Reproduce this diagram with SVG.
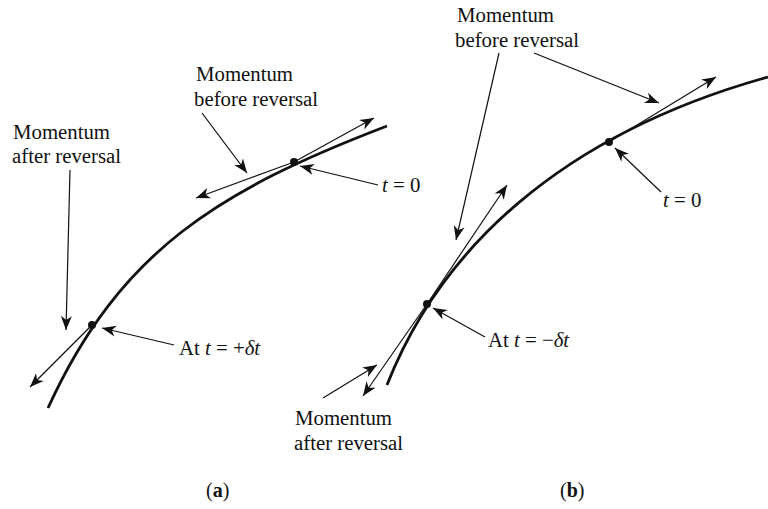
<svg xmlns="http://www.w3.org/2000/svg" width="768" height="509" viewBox="0 0 768 509">
<style>
.curve{fill:none;stroke:#111;stroke-width:2.8;stroke-linecap:butt}
.ln{fill:none;stroke:#111;stroke-width:1.2}
.ar{marker-end:url(#ah)}
.lbl{font-family:"Liberation Serif","Times New Roman",serif;font-size:20.8px;fill:#111}
.cap{font-family:"Liberation Serif","Times New Roman",serif;font-size:20px;fill:#111}
.dot{fill:#111}
</style>
<defs>
<marker id="ah" viewBox="-16 -7 18 14" markerWidth="18" markerHeight="14" refX="0" refY="0" orient="auto" markerUnits="userSpaceOnUse">
<path d="M0,0 L-14,-5.5 L-10,0 L-14,5.5 Z" fill="#111"/>
</marker>
</defs>
<rect width="768" height="509" fill="#fff"/>

<g id="panel-a">
<g id="curve-a"><path class="curve" d="M48 408 C120 250 220 190 387 126"/></g>
<g id="dot-a0"><circle class="dot" cx="294" cy="162" r="4"/></g>
<g id="dot-a1"><circle class="dot" cx="92" cy="325" r="4"/></g>
<g id="label-a-before"><text class="lbl" x="196" y="81">Momentum</text><text class="lbl" x="194" y="106">before reversal</text></g>
<g id="label-a-after"><text class="lbl" x="13" y="139">Momentum</text><text class="lbl" x="12" y="163">after reversal</text></g>
<g id="label-a-t0"><text class="lbl" x="382" y="192"><tspan font-style="italic">t</tspan> = 0</text></g>
<g id="label-a-dt"><text class="lbl" x="179" y="355">At <tspan font-style="italic">t</tspan> = +<tspan font-style="italic">δt</tspan></text></g>
<g id="caption-a"><text class="cap" x="206" y="497">(<tspan font-weight="bold">a</tspan>)</text></g>
</g>

<g id="panel-b">
<g id="curve-b"><path class="curve" d="M387 385 C440 250 560 135 768 77"/></g>
<g id="dot-b0"><circle class="dot" cx="609" cy="142" r="4"/></g>
<g id="dot-b1"><circle class="dot" cx="427" cy="304" r="4"/></g>
<g id="label-b-before"><text class="lbl" x="457" y="22">Momentum</text><text class="lbl" x="455" y="47">before reversal</text></g>
<g id="label-b-after"><text class="lbl" x="295" y="425">Momentum</text><text class="lbl" x="294" y="450">after reversal</text></g>
<g id="label-b-t0"><text class="lbl" x="663" y="207"><tspan font-style="italic">t</tspan> = 0</text></g>
<g id="label-b-dt"><text class="lbl" x="488" y="347">At <tspan font-style="italic">t</tspan> = −<tspan font-style="italic">δt</tspan></text></g>
<g id="caption-b"><text class="cap" x="560" y="497">(<tspan font-weight="bold">b</tspan>)</text></g>
</g>

<g id="connectors">
<line class="ln ar" x1="294" y1="162" x2="374" y2="118"/>
<line class="ln ar" x1="294" y1="162" x2="196" y2="198"/>
<line class="ln ar" x1="202" y1="113" x2="247" y2="173"/>
<line class="ln ar" x1="378" y1="185" x2="300" y2="166"/>
<line class="ln ar" x1="70" y1="170" x2="66" y2="330"/>
<line class="ln ar" x1="92" y1="325" x2="30" y2="387"/>
<line class="ln ar" x1="174" y1="345" x2="102" y2="328"/>

<line class="ln ar" x1="427" y1="304" x2="507" y2="185"/>
<line class="ln ar" x1="427" y1="304" x2="363" y2="396"/>
<line class="ln ar" x1="499" y1="53" x2="456" y2="240"/>
<line class="ln ar" x1="534" y1="53" x2="659" y2="103"/>
<line class="ln ar" x1="609" y1="142" x2="716" y2="77"/>
<line class="ln ar" x1="661" y1="192" x2="615" y2="148"/>
<line class="ln ar" x1="485" y1="337" x2="433" y2="308"/>
<line class="ln ar" x1="323" y1="398" x2="377" y2="365"/>
</g>
</svg>
